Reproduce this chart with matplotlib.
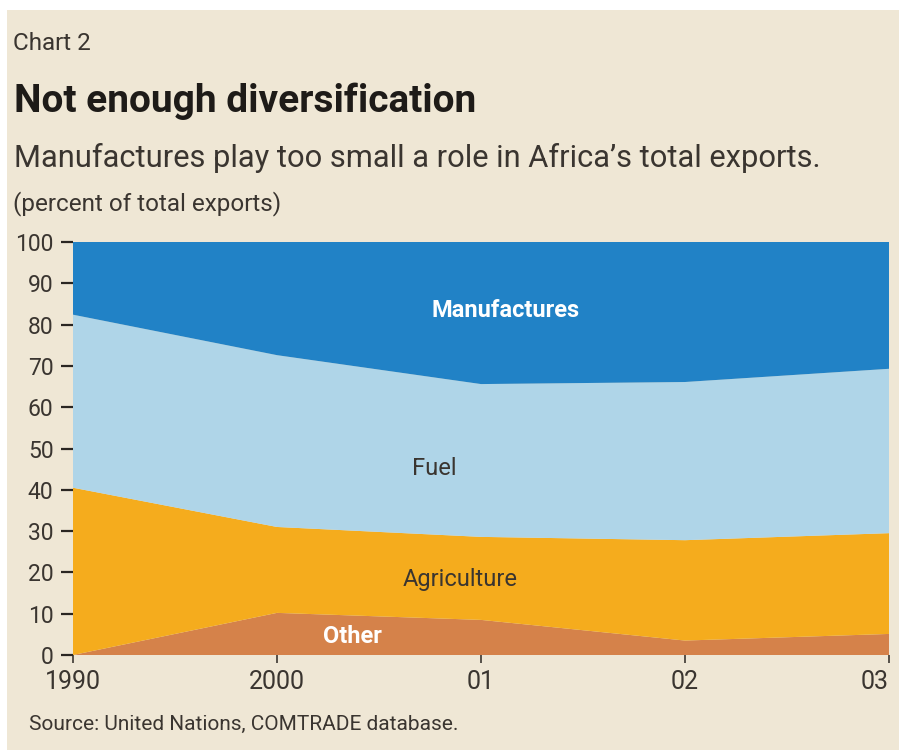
import matplotlib
matplotlib.use("Agg")
import matplotlib.pyplot as plt
from matplotlib.patches import Rectangle

# Shares of Africa's total exports, percent
years = ["1990", "2000", "01", "02", "03"]
other = [0.0, 10.2, 8.5, 3.5, 5.1]
agriculture = [40.5, 20.8, 20.1, 24.3, 24.4]
fuel = [41.9, 41.6, 37.0, 38.3, 39.8]
manufactures = [17.6, 27.4, 34.4, 33.9, 30.7]

series_names = ["Other", "Agriculture", "Fuel", "Manufactures"]
colors = ["#D5824A", "#F5AC1D", "#AFD5E8", "#2182C6"]
y_ticks = list(range(0, 101, 10))

FONT = ["Roboto", "DejaVu Sans"]
plt.rcParams["font.family"] = FONT
BG = "#EFE7D5"
INK = "#3A3530"

W, H = 899, 750
fig = plt.figure(figsize=(W / 100, H / 100), dpi=100)
fig.patch.set_facecolor("white")
fig.patches.append(Rectangle((7 / W, 0), 1, 1 - 10 / H, transform=fig.transFigure,
                             facecolor=BG, edgecolor="none", zorder=-10))

ax = fig.add_axes([73 / W, 1 - 655 / H, (889 - 73) / W, (655 - 242) / H])
ax.set_facecolor(BG)
x = list(range(len(years)))
ax.stackplot(x, other, agriculture, fuel, manufactures, colors=colors,
             labels=series_names, linewidth=0)
ax.set_xlim(0, len(years) - 1)
ax.set_ylim(0, 100)
for s in ax.spines.values():
    s.set_visible(False)
ax.set_yticks(y_ticks)
ax.set_yticklabels([str(v) for v in y_ticks], fontsize=16.5, color=INK)
ax.set_xticks(x)
ax.set_xticklabels(years, fontsize=18, color=INK)
ax.get_xticklabels()[-1].set_horizontalalignment("right")
ax.tick_params(axis="y", length=9, width=1.6, color="#2A2622", pad=5)
ax.tick_params(axis="x", length=6, width=1.4, color="#555049", pad=5)

ax.text(2.12, 83.5, "Manufactures", color="white", fontsize=17, fontweight="bold",
        ha="center", va="center")
ax.text(1.77, 45.2, "Fuel", color=INK, fontsize=17, ha="center", va="center")
ax.text(1.90, 18.2, "Agriculture", color=INK, fontsize=17, ha="center", va="center")
ax.text(1.37, 4.6, "Other", color="white", fontsize=17, fontweight="bold",
        ha="center", va="center")

fig.text(13 / W, 1 - 50 / H, "Chart 2", fontsize=17.5, color=INK, va="baseline")
fig.text(14 / W, 1 - 112 / H, "Not enough diversification", fontsize=28,
         fontweight="bold", color="#1E1B18", va="baseline")
fig.text(14 / W, 1 - 167 / H, "Manufactures play too small a role in Africa\u2019s total exports.",
         fontsize=22.2, color=INK, va="baseline")
fig.text(13 / W, 1 - 210 / H, "(percent of total exports)", fontsize=17.5,
         color=INK, va="baseline")
fig.text(29 / W, 1 - 730 / H, "Source: United Nations, COMTRADE database.",
         fontsize=15, color=INK, va="baseline")

fig.savefig("out.png", dpi=100, facecolor=fig.get_facecolor())
